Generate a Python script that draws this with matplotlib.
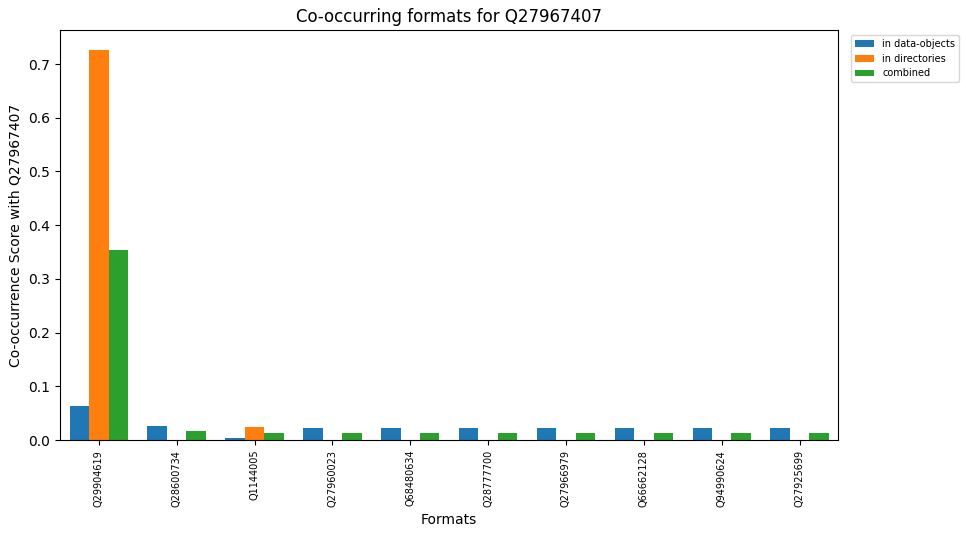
import matplotlib
matplotlib.use("Agg")
import matplotlib.pyplot as plt
import numpy as np

formats = ["Q29904619", "Q28600734", "Q1144005", "Q27960023", "Q68480634",
           "Q28777700", "Q27966979", "Q66662128", "Q94990624", "Q27925699"]
data_objects = [0.063, 0.027, 0.004, 0.023, 0.023, 0.023, 0.023, 0.023, 0.023, 0.023]
directories = [0.727, 0.0, 0.025, 0.0, 0.0, 0.0, 0.0, 0.0, 0.0, 0.0]
combined = [0.353, 0.016, 0.014, 0.0125, 0.0125, 0.0125, 0.0125, 0.0125, 0.0125, 0.0125]

fig, ax = plt.subplots(figsize=(9.66, 5.36), dpi=100)
x = np.arange(len(formats))
w = 0.25
ax.bar(x - w, data_objects, w, label="in data-objects")
ax.bar(x, directories, w, label="in directories")
ax.bar(x + w, combined, w, label="combined")
ax.set_xticks(x)
ax.set_xticklabels(formats, rotation=90, fontsize=7)
ax.set_xlim(-0.5, len(formats) - 0.5)
ax.set_xlabel("Formats")
ax.set_ylabel("Co-occurrence Score with Q27967407")
ax.set_title("Co-occurring formats for Q27967407")
ax.legend(loc="upper left", bbox_to_anchor=(1.01, 1), fontsize=7)
fig.subplots_adjust(left=0.062, right=0.868, top=0.944, bottom=0.179)
fig.savefig("out.png")
